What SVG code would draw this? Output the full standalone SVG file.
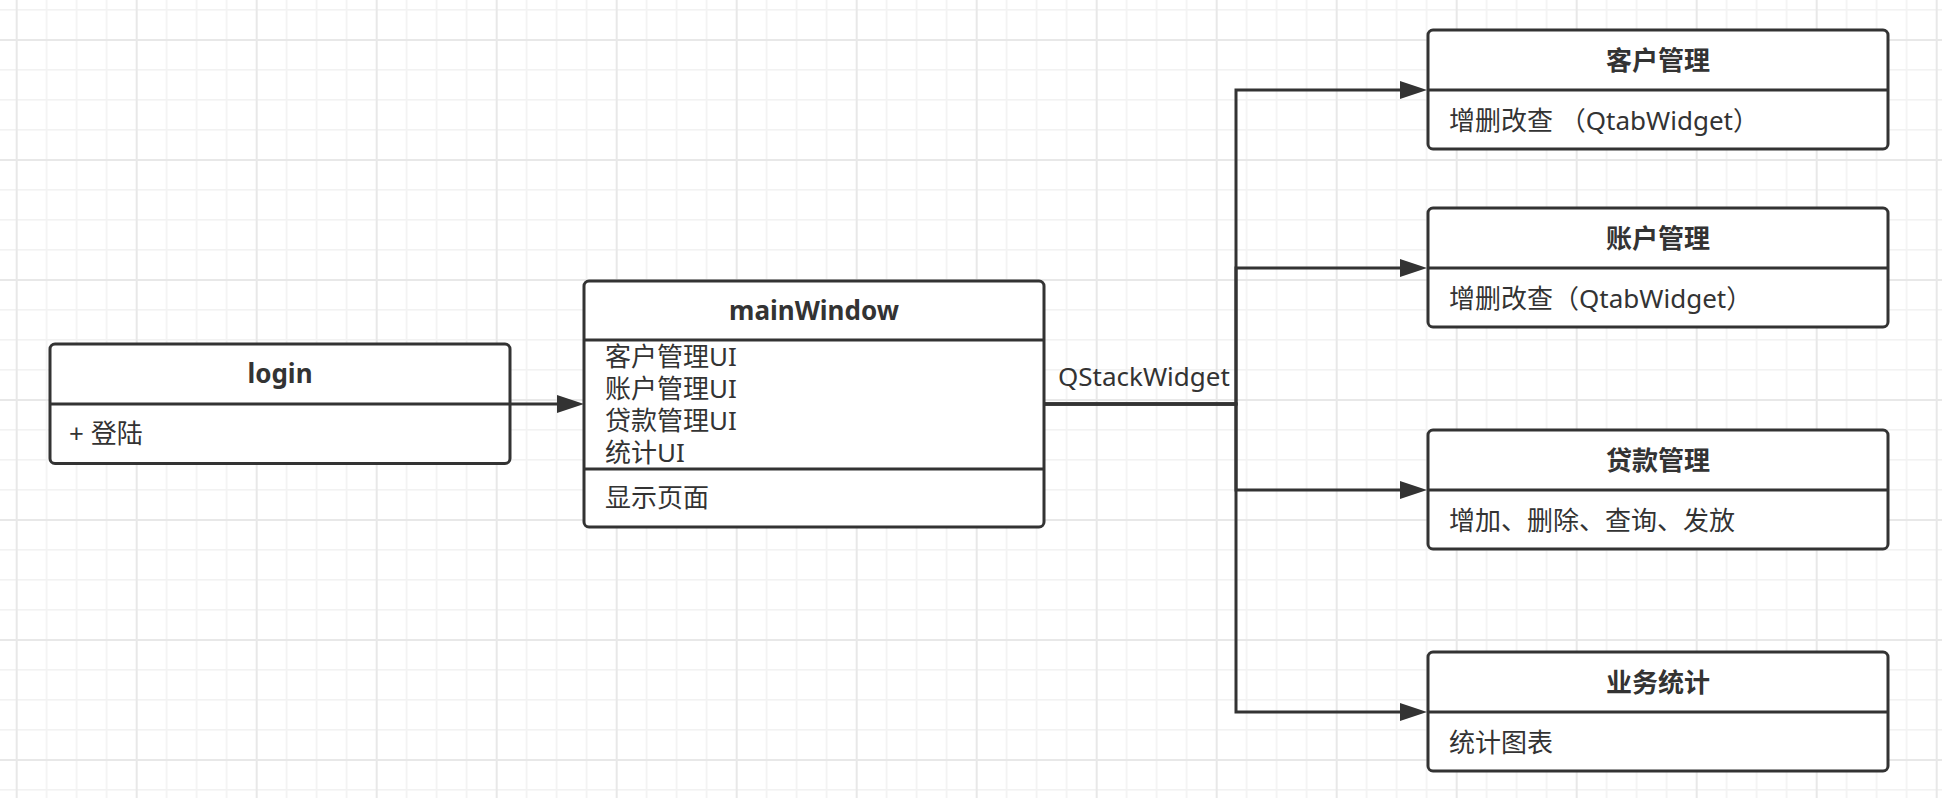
<svg xmlns="http://www.w3.org/2000/svg" width="1942" height="798" viewBox="0 0 1942 798">
  <style>
    .box { fill: #ffffff; stroke: #333333; stroke-width: 3; }
    .div { stroke: #333333; stroke-width: 3; fill: none; }
    .title { font-family: "Noto Sans", "Noto Sans CJK SC", sans-serif; font-size: 26px; font-weight: bold; fill: #333333; text-anchor: middle; }
    .body { font-family: "Noto Sans", "Noto Sans CJK SC", sans-serif; font-size: 26px; fill: #333333; }
    .conn { stroke: #333333; stroke-width: 3; fill: none; }
  </style>
  <defs>
    <pattern id="grid" x="15.7" y="39" width="120" height="120" patternUnits="userSpaceOnUse">
      <rect x="30" y="0" width="1.6" height="120" fill="#f2f2f2"/>
      <rect x="60" y="0" width="1.6" height="120" fill="#f2f2f2"/>
      <rect x="90" y="0" width="1.6" height="120" fill="#f2f2f2"/>
      <rect x="0" y="30" width="120" height="1.6" fill="#f2f2f2"/>
      <rect x="0" y="60" width="120" height="1.6" fill="#f2f2f2"/>
      <rect x="0" y="90" width="120" height="1.6" fill="#f2f2f2"/>
      <rect x="0" y="0" width="2" height="120" fill="#e8e8e8"/>
      <rect x="0" y="0" width="120" height="2" fill="#e8e8e8"/>
    </pattern>
    <marker id="arrow" viewBox="0 0 27 18" markerWidth="27" markerHeight="18" refX="17" refY="9" markerUnits="userSpaceOnUse" orient="auto">
      <path d="M0,0 L27,9 L0,18 z" fill="#333333"/>
    </marker>
  </defs>

  <rect x="0" y="0" width="1942" height="798" fill="#ffffff"/>
  <rect x="0" y="0" width="1942" height="798" fill="url(#grid)"/>

  <g id="connectors">
    <path class="conn" d="M510,404 H574" marker-end="url(#arrow)"/>
    <path class="conn" d="M1044,404 H1236 V90 H1417" marker-end="url(#arrow)"/>
    <path class="conn" d="M1044,404 H1236 V268 H1417" marker-end="url(#arrow)"/>
    <path class="conn" d="M1044,404 H1236 V490 H1417" marker-end="url(#arrow)"/>
    <path class="conn" d="M1044,404 H1236 V712 H1417" marker-end="url(#arrow)"/>
    <text class="body" x="1058" y="386">QStackWidget</text>
  </g>

  <g id="login">
    <rect class="box" x="50" y="344" width="460" height="119.5" rx="5"/>
    <line class="div" x1="50" y1="404" x2="510" y2="404"/>
    <text class="title" x="280" y="383">login</text>
    <text class="body" x="69" y="443">+ 登陆</text>
  </g>

  <g id="mainWindow">
    <rect class="box" x="584" y="281" width="460" height="246" rx="5"/>
    <line class="div" x1="584" y1="340" x2="1044" y2="340"/>
    <line class="div" x1="584" y1="469" x2="1044" y2="469"/>
    <text class="title" x="814" y="320">mainWindow</text>
    <text class="body" x="605" y="366">客户管理UI</text>
    <text class="body" x="605" y="398">账户管理UI</text>
    <text class="body" x="605" y="430">贷款管理UI</text>
    <text class="body" x="605" y="462">统计UI</text>
    <text class="body" x="605" y="507">显示页面</text>
  </g>

  <g id="customer">
    <rect class="box" x="1428" y="30" width="460" height="119" rx="5"/>
    <line class="div" x1="1428" y1="90" x2="1888" y2="90"/>
    <text class="title" x="1658" y="70">客户管理</text>
    <text class="body" x="1449" y="130">增删改查 （QtabWidget）</text>
  </g>

  <g id="account">
    <rect class="box" x="1428" y="208" width="460" height="119" rx="5"/>
    <line class="div" x1="1428" y1="268" x2="1888" y2="268"/>
    <text class="title" x="1658" y="248">账户管理</text>
    <text class="body" x="1449" y="308">增删改查（QtabWidget）</text>
  </g>

  <g id="loan">
    <rect class="box" x="1428" y="430" width="460" height="119" rx="5"/>
    <line class="div" x1="1428" y1="490" x2="1888" y2="490"/>
    <text class="title" x="1658" y="470">贷款管理</text>
    <text class="body" x="1449" y="530">增加、删除、查询、发放</text>
  </g>

  <g id="stats">
    <rect class="box" x="1428" y="652" width="460" height="119" rx="5"/>
    <line class="div" x1="1428" y1="712" x2="1888" y2="712"/>
    <text class="title" x="1658" y="692">业务统计</text>
    <text class="body" x="1449" y="752">统计图表</text>
  </g>
</svg>
